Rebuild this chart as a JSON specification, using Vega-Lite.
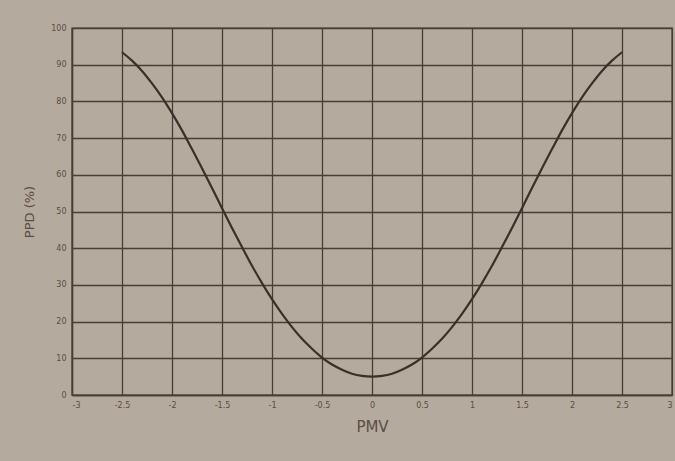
{
  "$schema": "https://vega.github.io/schema/vega-lite/v6.json",
  "width": 600,
  "height": 367,
  "autosize": {"type": "none"},
  "padding": {"left": 72, "top": 28, "right": 3, "bottom": 66},
  "background": "#b5aa9e",
  "config": {
    "view": {"stroke": "#4a3d33", "strokeWidth": 1.4},
    "axis": {
      "gridColor": "#4a3d33",
      "gridOpacity": 1,
      "gridWidth": 1.3,
      "domainColor": "#4a3d33",
      "domainWidth": 1.4,
      "ticks": false,
      "labelColor": "#5a4d43",
      "labelFont": "DejaVu Sans",
      "labelFontSize": 8,
      "titleColor": "#5a4d43",
      "titleFont": "DejaVu Sans",
      "titleFontWeight": "normal"
    }
  },
  "data": {
    "values": [
      {"PMV": -2.5, "PPD": 93.4}, {"PMV": -2.4, "PPD": 91.1}, {"PMV": -2.3, "PPD": 88.3},
      {"PMV": -2.2, "PPD": 84.9}, {"PMV": -2.1, "PPD": 81.1}, {"PMV": -2.0, "PPD": 76.8},
      {"PMV": -1.9, "PPD": 72.1}, {"PMV": -1.8, "PPD": 67.0}, {"PMV": -1.7, "PPD": 61.8},
      {"PMV": -1.6, "PPD": 56.4}, {"PMV": -1.5, "PPD": 50.9}, {"PMV": -1.4, "PPD": 45.5},
      {"PMV": -1.3, "PPD": 40.3}, {"PMV": -1.2, "PPD": 35.2}, {"PMV": -1.1, "PPD": 30.5},
      {"PMV": -1.0, "PPD": 26.1}, {"PMV": -0.9, "PPD": 22.1}, {"PMV": -0.8, "PPD": 18.5},
      {"PMV": -0.7, "PPD": 15.3}, {"PMV": -0.6, "PPD": 12.6}, {"PMV": -0.5, "PPD": 10.2},
      {"PMV": -0.4, "PPD": 8.3}, {"PMV": -0.3, "PPD": 6.9}, {"PMV": -0.2, "PPD": 5.8},
      {"PMV": -0.1, "PPD": 5.2}, {"PMV": 0.0, "PPD": 5.0}, {"PMV": 0.1, "PPD": 5.2},
      {"PMV": 0.2, "PPD": 5.8}, {"PMV": 0.3, "PPD": 6.9}, {"PMV": 0.4, "PPD": 8.3},
      {"PMV": 0.5, "PPD": 10.2}, {"PMV": 0.6, "PPD": 12.6}, {"PMV": 0.7, "PPD": 15.3},
      {"PMV": 0.8, "PPD": 18.5}, {"PMV": 0.9, "PPD": 22.1}, {"PMV": 1.0, "PPD": 26.1},
      {"PMV": 1.1, "PPD": 30.5}, {"PMV": 1.2, "PPD": 35.2}, {"PMV": 1.3, "PPD": 40.3},
      {"PMV": 1.4, "PPD": 45.5}, {"PMV": 1.5, "PPD": 50.9}, {"PMV": 1.6, "PPD": 56.4},
      {"PMV": 1.7, "PPD": 61.8}, {"PMV": 1.8, "PPD": 67.0}, {"PMV": 1.9, "PPD": 72.1},
      {"PMV": 2.0, "PPD": 76.8}, {"PMV": 2.1, "PPD": 81.1}, {"PMV": 2.2, "PPD": 84.9},
      {"PMV": 2.3, "PPD": 88.3}, {"PMV": 2.4, "PPD": 91.1}, {"PMV": 2.5, "PPD": 93.4}
    ]
  },
  "mark": {"type": "line", "color": "#3b2f29", "strokeWidth": 2.2, "interpolate": "monotone"},
  "encoding": {
    "x": {
      "field": "PMV", "type": "quantitative",
      "scale": {"domain": [-3, 3], "nice": false},
      "axis": {"values": [-3, -2.5, -2, -1.5, -1, -0.5, 0, 0.5, 1, 1.5, 2, 2.5, 3], "labelExpr": "'' + datum.value", "title": "PMV", "titleFontSize": 15, "titlePadding": 10, "labelPadding": 6}
    },
    "y": {
      "field": "PPD", "type": "quantitative",
      "scale": {"domain": [0, 100], "nice": false},
      "axis": {"values": [0, 10, 20, 30, 40, 50, 60, 70, 80, 90, 100], "title": "PPD (%)", "titleFontSize": 13, "titlePadding": 14, "labelPadding": 6}
    }
  }
}
